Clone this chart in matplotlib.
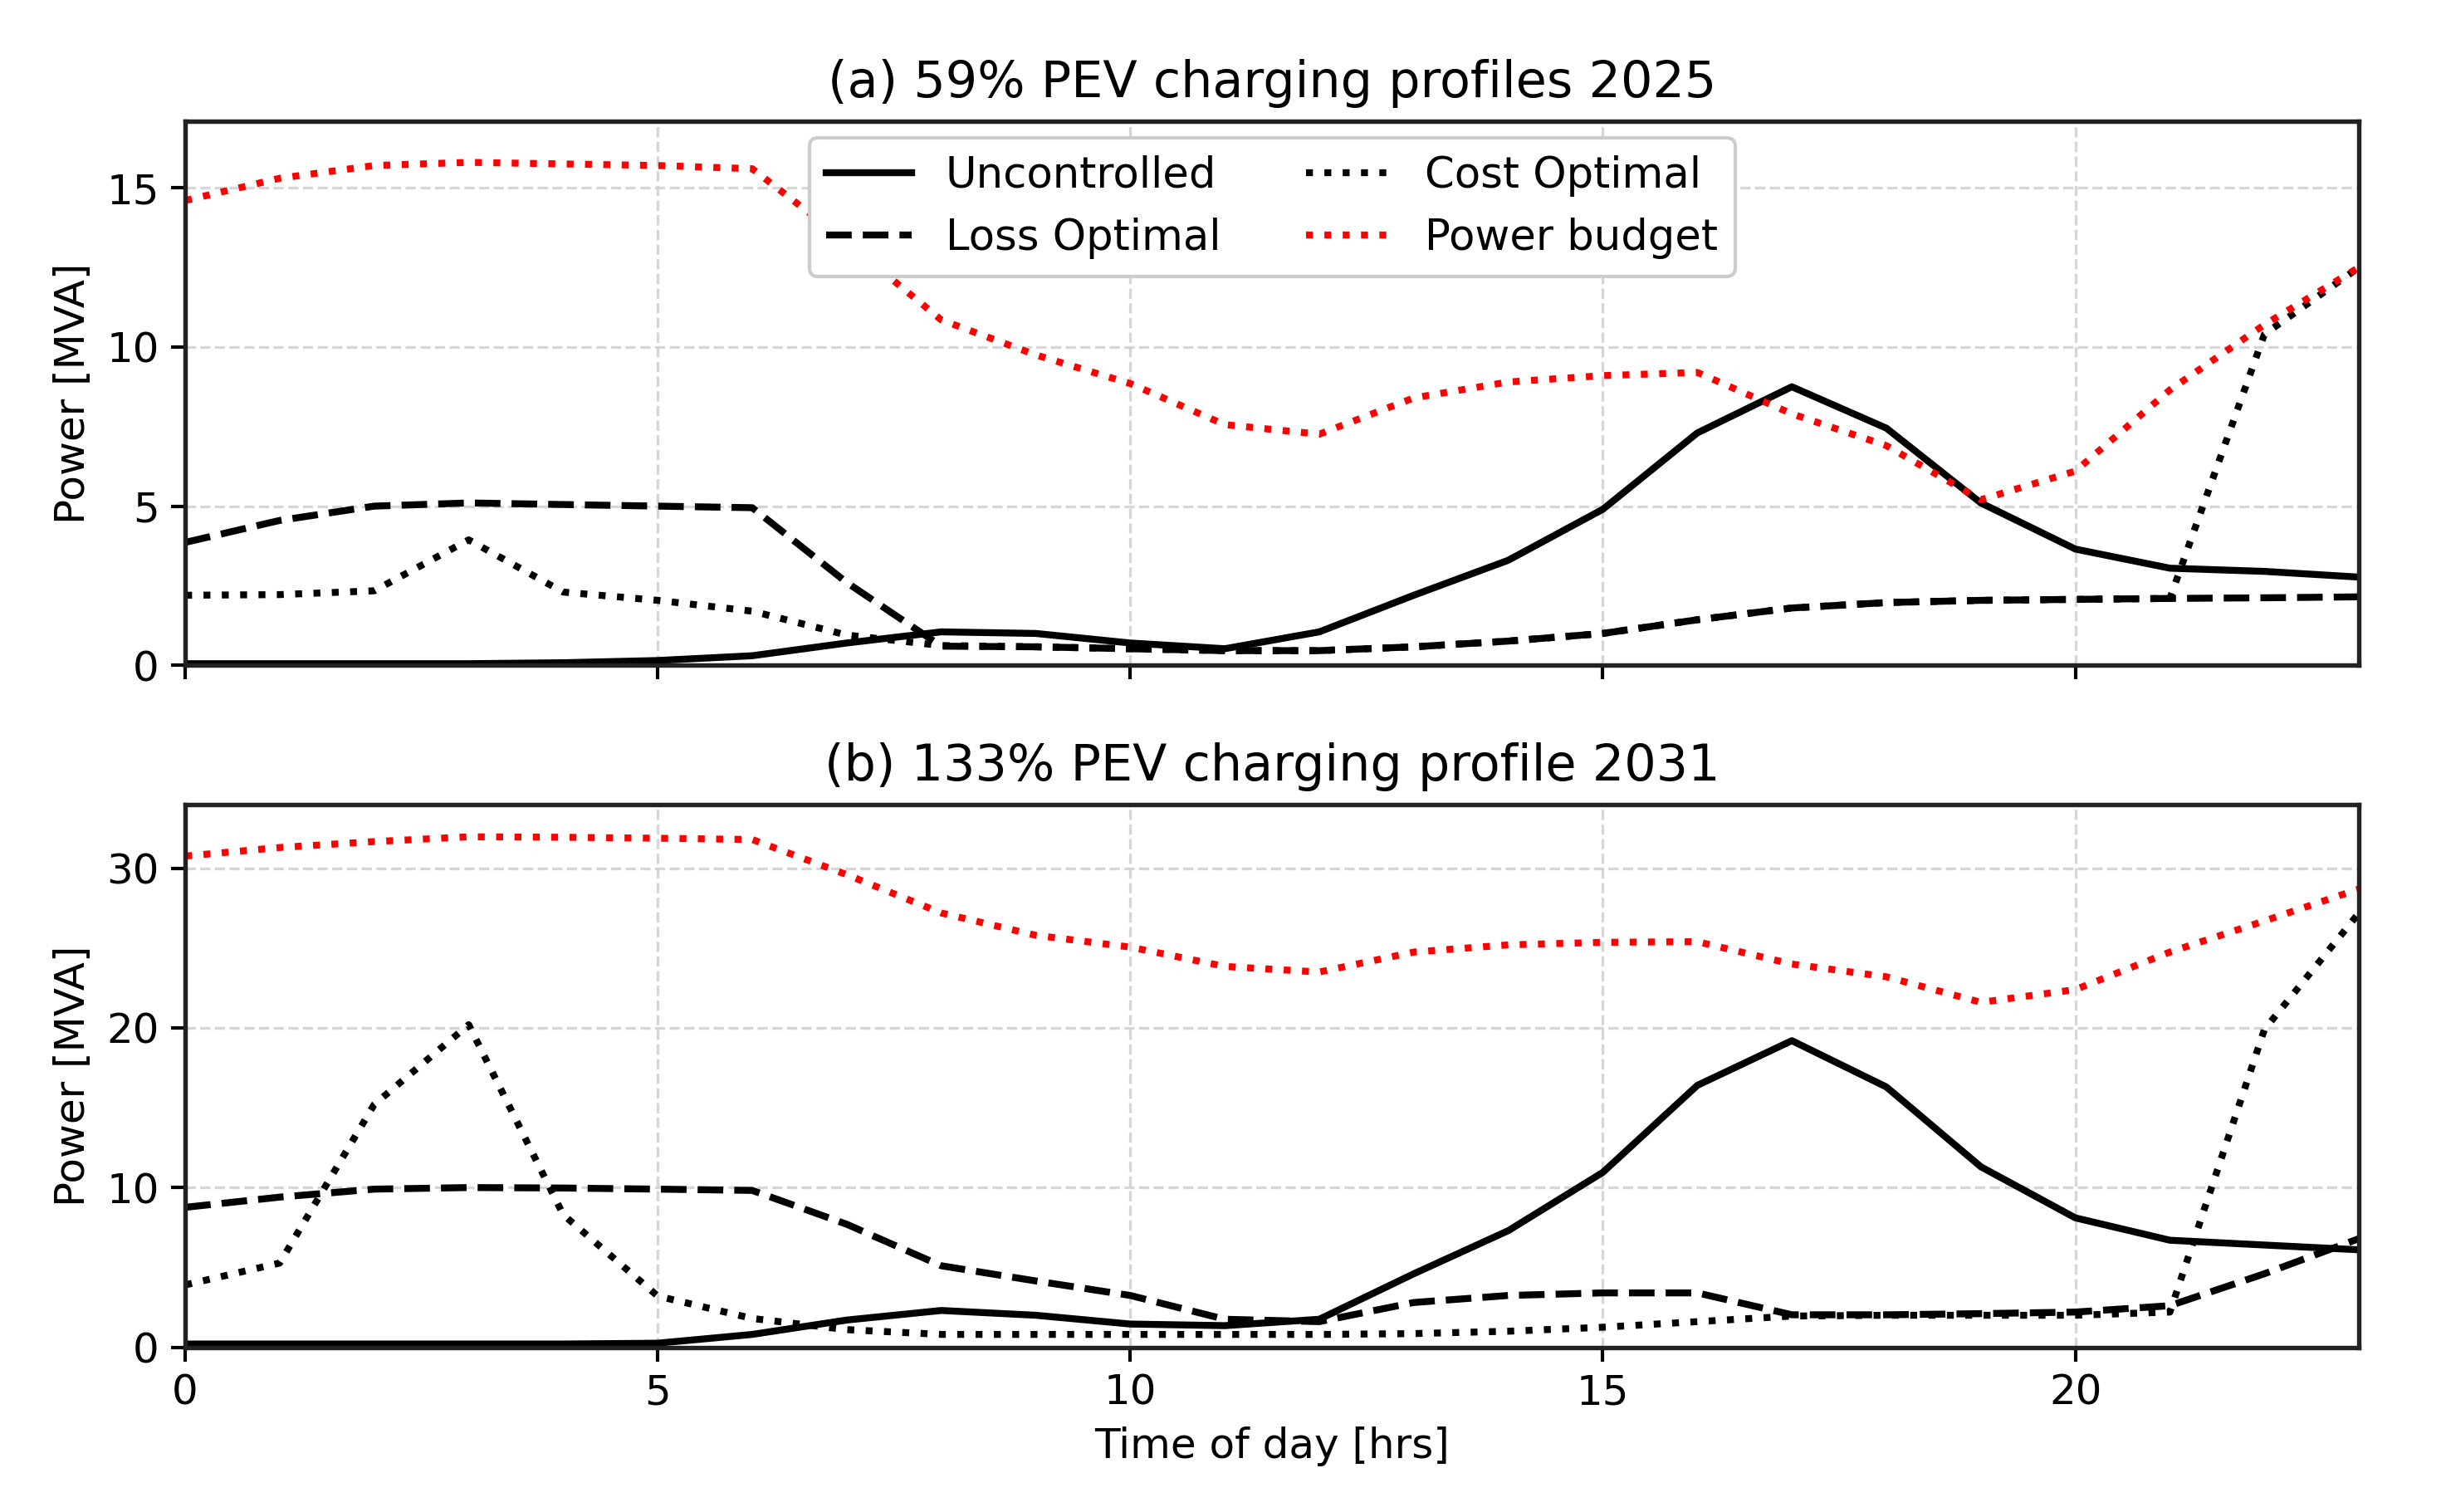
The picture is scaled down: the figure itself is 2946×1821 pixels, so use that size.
import matplotlib
matplotlib.use('Agg')
import matplotlib.pyplot as plt

hours = list(range(24))

# (a) 59% PEV, 2025
unc_a = [0.05, 0.05, 0.05, 0.05, 0.08, 0.15, 0.3, 0.7, 1.05, 1.0, 0.7, 0.52,
         1.05, 2.2, 3.3, 4.9, 7.3, 8.75, 7.45, 5.1, 3.65, 3.05, 2.95, 2.77]
loss_a = [3.86, 4.55, 5.0, 5.1, 5.05, 5.0, 4.95, 2.6, 0.6, 0.58, 0.52, 0.46,
          0.46, 0.58, 0.76, 1.0, 1.43, 1.8, 1.97, 2.04, 2.07, 2.1, 2.12, 2.15]
cost_a = [2.2, 2.22, 2.34, 3.94, 2.3, 2.04, 1.7, 0.95, 0.62, 0.58, 0.52, 0.46,
          0.46, 0.58, 0.76, 1.0, 1.43, 1.8, 1.97, 2.04, 2.07, 2.1, 10.4, 12.5]
budget_a = [14.6, 15.3, 15.7, 15.8, 15.75, 15.7, 15.6, 13.3, 10.85, 9.75, 8.85, 7.56,
            7.26, 8.4, 8.9, 9.1, 9.2, 7.9, 6.9, 5.2, 6.1, 8.65, 10.7, 12.5]

# (b) 133% PEV, 2031
unc_b = [0.2, 0.2, 0.2, 0.2, 0.2, 0.25, 0.8, 1.7, 2.3, 2.0, 1.45, 1.35,
         1.75, 4.6, 7.3, 10.95, 16.4, 19.2, 16.3, 11.3, 8.1, 6.7, 6.4, 6.1]
loss_b = [8.76, 9.4, 9.9, 10.0, 9.97, 9.9, 9.82, 7.7, 5.1, 4.15, 3.24, 1.75,
          1.6, 2.8, 3.24, 3.4, 3.4, 2.03, 2.03, 2.1, 2.2, 2.6, 4.6, 6.8]
cost_b = [3.9, 5.27, 15.2, 20.2, 8.3, 3.2, 1.8, 1.1, 0.8, 0.8, 0.8, 0.8,
          0.8, 0.85, 1.0, 1.25, 1.6, 1.95, 2.0, 2.0, 2.0, 2.2, 19.9, 27.2]
budget_b = [30.76, 31.3, 31.67, 31.97, 31.94, 31.88, 31.8, 29.6, 27.2, 25.8, 25.06, 23.85,
            23.5, 24.75, 25.2, 25.36, 25.4, 24.0, 23.2, 21.6, 22.4, 24.75, 26.7, 28.7]

panels = [
    ('(a) 59% PEV charging profiles 2025', unc_a, loss_a, cost_a, budget_a, 17.1),
    ('(b) 133% PEV charging profile 2031', unc_b, loss_b, cost_b, budget_b, 34.0),
]

fig = plt.figure(figsize=(2946 / 300, 1821 / 300), dpi=300)
ax1 = fig.add_axes([0.0757, 0.560, 0.8887, 0.360])
ax2 = fig.add_axes([0.0757, 0.109, 0.8887, 0.359], sharex=ax1)

for ax, (title, unc, loss, cost, budget, ytop) in zip([ax1, ax2], panels):
    ax.plot(hours, unc, color='black', linestyle='-', linewidth=2, label='Uncontrolled')
    ax.plot(hours, loss, color='black', linestyle='--', linewidth=2, label='Loss Optimal')
    ax.plot(hours, cost, color='black', linestyle=':', linewidth=2, label='Cost Optimal')
    ax.plot(hours, budget, color='red', linestyle=':', linewidth=2, label='Power budget')
    ax.set_xlim(0, 23)
    ax.set_ylim(0, ytop)
    ax.set_title(title, fontsize=14.5, pad=7)
    ax.set_ylabel('Power [MVA]', fontsize=12)
    ax.grid(True, linestyle='--', color='#cccccc', linewidth=0.8, alpha=0.8)
    ax.tick_params(labelsize=12, width=1, length=4)
    for s in ax.spines.values():
        s.set_linewidth(1.3)
        s.set_color('#222222')

ax1.set_yticks([0, 5, 10, 15])
ax2.set_yticks([0, 10, 20, 30])
ax2.set_xticks([0, 5, 10, 15, 20])
ax1.tick_params(labelbottom=False)
ax2.set_xlabel('Time of day [hrs]', fontsize=12)

ax1.legend(loc='upper center', ncol=2, fontsize=12.3, framealpha=1,
           edgecolor='#cccccc', borderaxespad=0.4, columnspacing=2.0, handlelength=2.0)

plt.savefig('out.png', dpi=300)
plt.close()
